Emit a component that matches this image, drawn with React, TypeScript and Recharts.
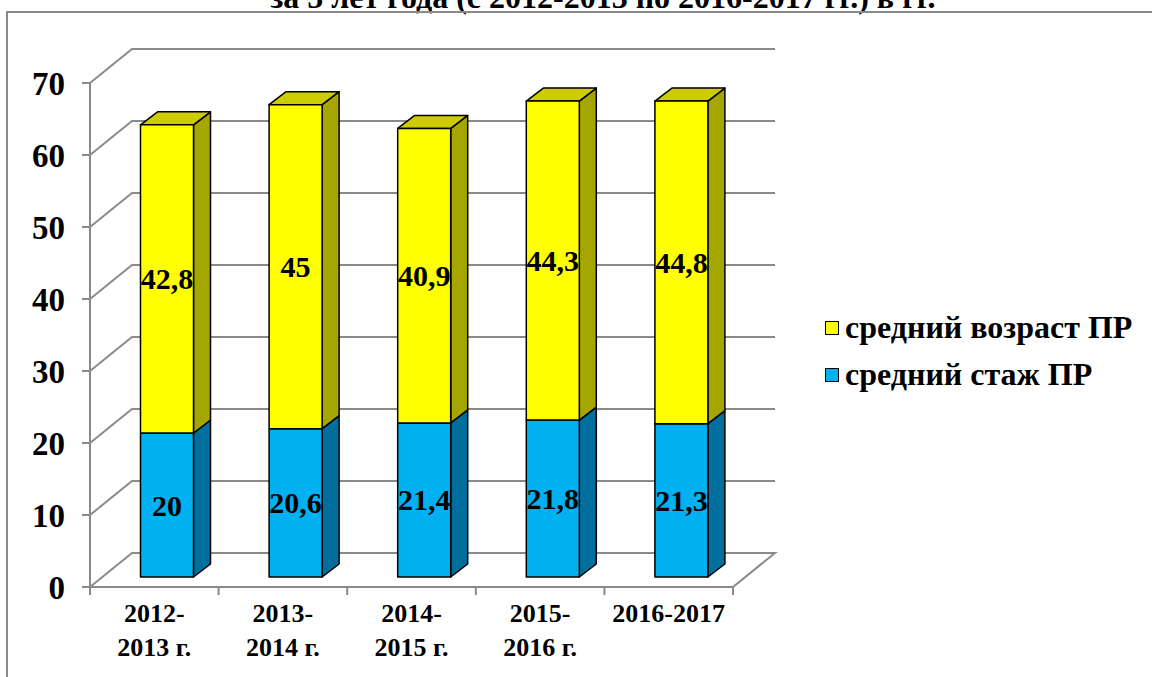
import { BarChart, Bar, XAxis, YAxis, CartesianGrid, Legend, LabelList } from 'recharts';

const categories = ['2012-\n2013 г.', '2013-\n2014 г.', '2014-\n2015 г.', '2015-\n2016 г.', '2016-2017'];
const stazh = [20, 20.6, 21.4, 21.8, 21.3];
const vozrast = [42.8, 45, 40.9, 44.3, 44.8];
const yTicks = [0, 10, 20, 30, 40, 50, 60, 70];
const legendOrder = ['средний возраст ПР', 'средний стаж ПР'];
const title = 'за 5 лет года (с 2012-2013 по 2016-2017 гг.) в гг.';

const data = categories.map((cat, i) => ({ cat, stazh: stazh[i], vozrast: vozrast[i] }));

const FONT = "'Liberation Serif', 'Times New Roman', serif";
const GRID = '#8a8a8a';
// back wall offset, bar plane offset, bar depth
const WALL_X = 42;
const WALL_Y = -34;
const SHIFT_X = 12.5;
const SHIFT_Y = -10;
const SIDE_X = 17;
const SIDE_Y = -13;

const box = (withTop: boolean, side: string, cap: string) => (props: any) => {
  const { x, y, width, height, fill } = props;
  if (!height) return null;
  const x0 = x + SHIFT_X;
  const y0 = y + SHIFT_Y;
  const x1 = x0 + width;
  const y1 = y0 + height;
  return (
    <g stroke="#000" strokeWidth={1.5} strokeLinejoin="round">
      <polygon
        points={`${x1},${y0} ${x1 + SIDE_X},${y0 + SIDE_Y} ${x1 + SIDE_X},${y1 + SIDE_Y} ${x1},${y1}`}
        fill={side}
      />
      {withTop && (
        <polygon
          points={`${x0},${y0} ${x0 + SIDE_X},${y0 + SIDE_Y} ${x1 + SIDE_X},${y0 + SIDE_Y} ${x1},${y0}`}
          fill={cap}
        />
      )}
      <rect x={x0} y={y0} width={width} height={height} fill={fill} />
    </g>
  );
};

const barLabel = (props: any) => {
  const { x, y, width, height, value } = props;
  return (
    <text
      x={x + width / 2 + SHIFT_X}
      y={y + height / 2 + SHIFT_Y}
      textAnchor="middle"
      dominantBaseline="central"
      fontFamily={FONT}
      fontWeight="bold"
      fontSize={30}
      fill="#000"
    >
      {String(value).replace('.', ',')}
    </text>
  );
};

const gridLine = (props: any) => {
  const { x1, x2, y1, index } = props;
  let d = `M${x1},${y1} L${x1 + WALL_X},${y1 + WALL_Y} L${x2 + WALL_X},${y1 + WALL_Y}`;
  if (index === 0) d += ` L${x2},${y1}`;
  return <path key={`g-${index}`} d={d} stroke={GRID} strokeWidth={2} fill="none" />;
};

const XTick = (props: any) => {
  const { x, y, payload, index } = props;
  const half = payload.offset ?? 64;
  const lines = String(payload.value).split('\n');
  return (
    <g>
      <line x1={x - half} x2={x - half} y1={y} y2={y + 8} stroke={GRID} strokeWidth={2} />
      {index === categories.length - 1 && (
        <line x1={x + half} x2={x + half} y1={y} y2={y + 8} stroke={GRID} strokeWidth={2} />
      )}
      <text textAnchor="middle" fontFamily={FONT} fontWeight="bold" fontSize={26} fill="#000">
        {lines.map((l, i) => (
          <tspan key={i} x={x} y={y + 35 + i * 34}>
            {l}
          </tspan>
        ))}
      </text>
    </g>
  );
};

const legendContent = (props: any) => {
  const items = [...(props.payload ?? [])].sort(
    (a: any, b: any) => legendOrder.indexOf(a.value) - legendOrder.indexOf(b.value),
  );
  return (
    <div style={{ fontFamily: FONT, fontWeight: 'bold', fontSize: 32, color: '#000', whiteSpace: 'nowrap' }}>
      {items.map((it: any) => (
        <div key={it.value} style={{ display: 'flex', alignItems: 'center', height: 47 }}>
          <span
            style={{
              display: 'inline-block',
              flex: 'none',
              width: 12,
              height: 12,
              background: it.color,
              border: '1.5px solid #000',
              marginRight: 6,
            }}
          />
          <span>{it.value}</span>
        </div>
      ))}
    </div>
  );
};

export default function App() {
  return (
    <div
      style={{
        position: 'absolute',
        left: 0,
        top: 0,
        width: 1152,
        height: 677,
        overflow: 'hidden',
        background: '#fff',
      }}
    >
      <div
        style={{
          position: 'absolute',
          left: 0,
          width: 1152,
          top: -21,
          textAlign: 'center',
          fontFamily: FONT,
          fontWeight: 'bold',
          fontSize: 32,
          lineHeight: '36px',
          paddingLeft: 54,
          boxSizing: 'border-box',
          whiteSpace: 'nowrap',
        }}
      >
        {title}
      </div>
      <div
        style={{
          position: 'absolute',
          left: 6,
          top: 11,
          width: 1200,
          height: 720,
          border: `2px solid ${GRID}`,
        }}
      />
      <div style={{ position: 'absolute', left: 0, top: 0 }}>
        <BarChart
          width={1152}
          height={677}
          data={data}
          margin={{ top: 83, right: 419, bottom: 10, left: 30 }}
          barSize={53}
        >
          <CartesianGrid vertical={false} horizontal={gridLine} />
          <YAxis
            width={60}
            domain={[0, 70]}
            ticks={yTicks}
            interval={0}
            tickSize={8}
            tickMargin={17}
            axisLine={{ stroke: GRID, strokeWidth: 2 }}
            tickLine={{ stroke: GRID, strokeWidth: 2 }}
            tick={{ fill: '#000', fontFamily: FONT, fontWeight: 'bold', fontSize: 33 }}
          />
          <XAxis
            dataKey="cat"
            height={80}
            interval={0}
            tickSize={0}
            tickMargin={0}
            tickLine={false}
            axisLine={{ stroke: GRID, strokeWidth: 2 }}
            tick={<XTick />}
          />
          <Legend
            layout="vertical"
            align="center"
            verticalAlign="middle"
            content={legendContent}
            wrapperStyle={{ left: 825, top: 304, width: 327 }}
          />
          <Bar
            dataKey="stazh"
            name="средний стаж ПР"
            stackId="a"
            fill="#00B0F0"
            shape={box(false, '#006F9E', '#0080B0')}
            isAnimationActive={false}
          >
            <LabelList dataKey="stazh" content={barLabel} />
          </Bar>
          <Bar
            dataKey="vozrast"
            name="средний возраст ПР"
            stackId="a"
            fill="#FFFF00"
            shape={box(true, '#A6A600', '#CCCC00')}
            isAnimationActive={false}
          >
            <LabelList dataKey="vozrast" content={barLabel} />
          </Bar>
        </BarChart>
      </div>
    </div>
  );
}
